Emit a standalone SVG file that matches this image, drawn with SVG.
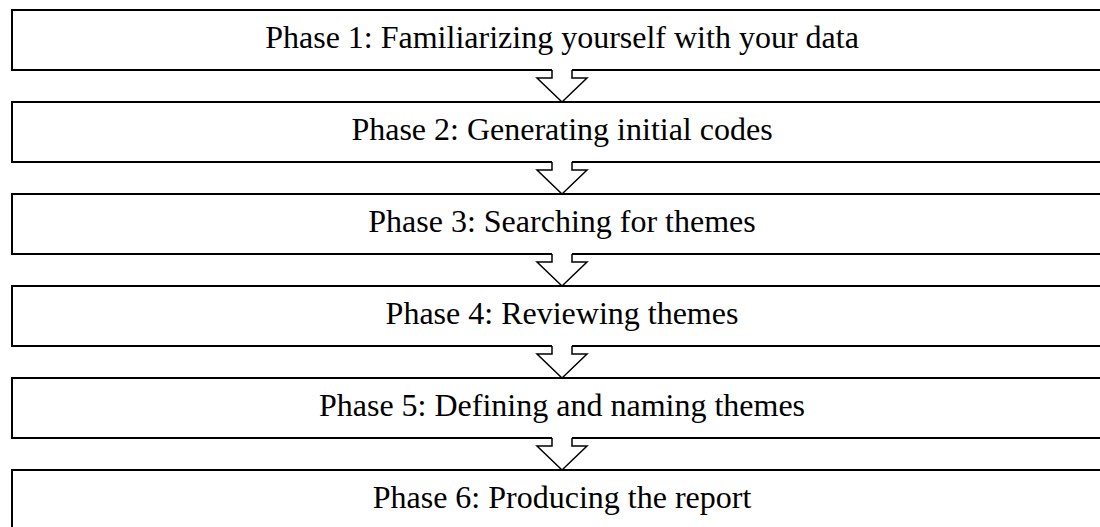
<svg xmlns="http://www.w3.org/2000/svg" width="1100" height="527" viewBox="0 0 1100 527">
<style>
.box{fill:#fff;stroke:#000;stroke-width:2}
.lbl{font-family:"Liberation Serif","Times New Roman",serif;font-size:32px;fill:#000;text-anchor:middle}
.afill{fill:#fff;stroke:none}
.aline{fill:none;stroke:#000;stroke-width:1.5;stroke-linejoin:miter}
</style>
<rect width="1100" height="527" fill="#fff"/>
<defs>
<g id="arrow">
<path class="afill" d="M552,69 L552,78 L537,78 L562,102 L587,78 L572,78 L572,69 Z"/>
<polyline class="aline" points="552,70 552,78 537,78 562,102 587,78 572,78 572,70"/>
</g>
</defs>
<g id="node1"><rect class="box" x="12" y="10" width="1100" height="60"/><text class="lbl" x="562" y="48">Phase 1: Familiarizing yourself with your data</text></g>
<g id="connectors1"><use href="#arrow"/></g>
<g id="node2"><rect class="box" x="12" y="102" width="1100" height="60"/><text class="lbl" x="562" y="140">Phase 2: Generating initial codes</text></g>
<g id="connectors2"><use href="#arrow" y="92"/></g>
<g id="node3"><rect class="box" x="12" y="194" width="1100" height="60"/><text class="lbl" x="562" y="232">Phase 3: Searching for themes</text></g>
<g id="connectors3"><use href="#arrow" y="184"/></g>
<g id="node4"><rect class="box" x="12" y="286" width="1100" height="60"/><text class="lbl" x="562" y="324">Phase 4: Reviewing themes</text></g>
<g id="connectors4"><use href="#arrow" y="276"/></g>
<g id="node5"><rect class="box" x="12" y="378" width="1100" height="60"/><text class="lbl" x="562" y="416">Phase 5: Defining and naming themes</text></g>
<g id="connectors5"><use href="#arrow" y="368"/></g>
<g id="node6"><rect class="box" x="12" y="470" width="1100" height="60"/><text class="lbl" x="562" y="508">Phase 6: Producing the report</text></g>
</svg>
